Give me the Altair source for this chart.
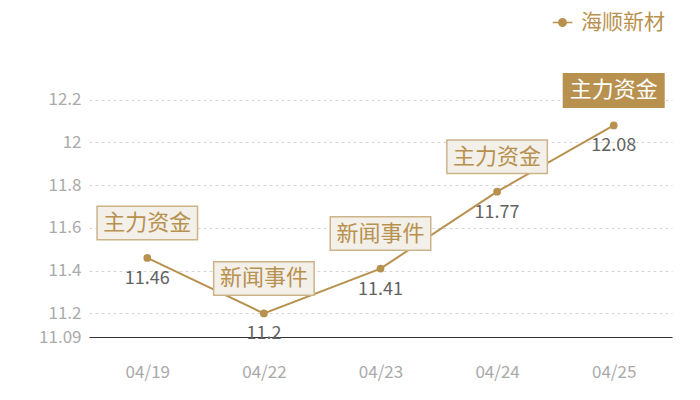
import altair as alt
import pandas as pd

dates = ["04/19", "04/22", "04/23", "04/24", "04/25"]
prices = [11.46, 11.2, 11.41, 11.77, 12.08]
events = ["主力资金", "新闻事件", "新闻事件", "主力资金", "主力资金"]
highlight = [False, False, False, False, True]
series_name = "海顺新材"
y_ticks = [11.09, 11.2, 11.4, 11.6, 11.8, 12.0, 12.2]

df = pd.DataFrame({"date": dates, "price": prices, "event": events,
                   "hl": highlight, "series": [series_name] * len(dates)})

GOLD = "#b8914f"
FONT = "Noto Sans CJK SC"

x = alt.X("date:N", sort=dates, scale=alt.Scale(paddingInner=0, paddingOuter=0, align=0.5),
          axis=alt.Axis(title=None, labelAngle=0, labelColor="#aaaaaa", labelFontSize=17,
                        labelFont=FONT, labelPadding=27, ticks=False, domain=True,
                        domainColor="#333333", domainWidth=1.2, grid=False))
y = alt.Y("price:Q", scale=alt.Scale(domain=[11.09, 12.4], nice=False, zero=False),
          axis=alt.Axis(title=None, values=y_ticks, labelExpr="datum.value + ''",
                        labelColor="#aaaaaa", labelFontSize=17, labelFont=FONT,
                        labelPadding=8, ticks=False, domain=False, grid=True,
                        gridColor="#d6d6d6", gridDash=[3, 3], gridWidth=1))

base = alt.Chart(df)

line = base.mark_line(color=GOLD, strokeWidth=2).encode(x=x, y=y)
pts = base.mark_point(filled=True, size=60, opacity=1).encode(
    x=x, y=y,
    color=alt.Color("series:N", scale=alt.Scale(range=[GOLD]),
                    legend=alt.Legend(title=None, orient="none", legendX=463, legendY=-45,
                                      labelFontSize=21, labelColor=GOLD, labelFont=FONT,
                                      labelOffset=8, padding=0, labelLimit=300,
                                      symbolType="M-1.6,0 L1.6,0 M0.6,0 A0.6,0.6 0 1,1 -0.6,0 A0.6,0.6 0 1,1 0.6,0 Z",
                                      symbolSize=150, symbolStrokeWidth=1.5,
                                      symbolFillColor=GOLD, symbolStrokeColor=GOLD)))

vals = base.mark_text(dy=21, fontSize=18, color="#626262", font=FONT, baseline="middle").encode(
    x=x, y=y, text=alt.Text("price:Q", format=""))

box_shape = "M-1.5,-0.5 L1.5,-0.5 L1.5,0.5 L-1.5,0.5 Z"
boxes = base.mark_point(shape=box_shape, size=4489, yOffset=-35, strokeWidth=1.5, opacity=1,
                        filled=False).encode(
    x=x, y=y,
    fill=alt.condition("datum.hl", alt.value(GOLD), alt.value("#f3efe9")),
    stroke=alt.condition("datum.hl", alt.value(GOLD), alt.value("#cdb38a")))
box_text = base.mark_text(dy=-35, fontSize=22, font=FONT, baseline="middle").encode(
    x=x, y=y, text="event:N",
    color=alt.condition("datum.hl", alt.value("#ffffff"), alt.value(GOLD)))

chart = alt.layer(line, pts, vals, boxes, box_text).properties(
    width=583, height=280,
    background="white",
    autosize=alt.AutoSizeParams(type="none"),
    padding={"left": 81, "top": 49, "right": 20, "bottom": 50},
).configure_view(stroke=None)

chart.save("out.html", embed_options={"renderer": "svg", "actions": False})
